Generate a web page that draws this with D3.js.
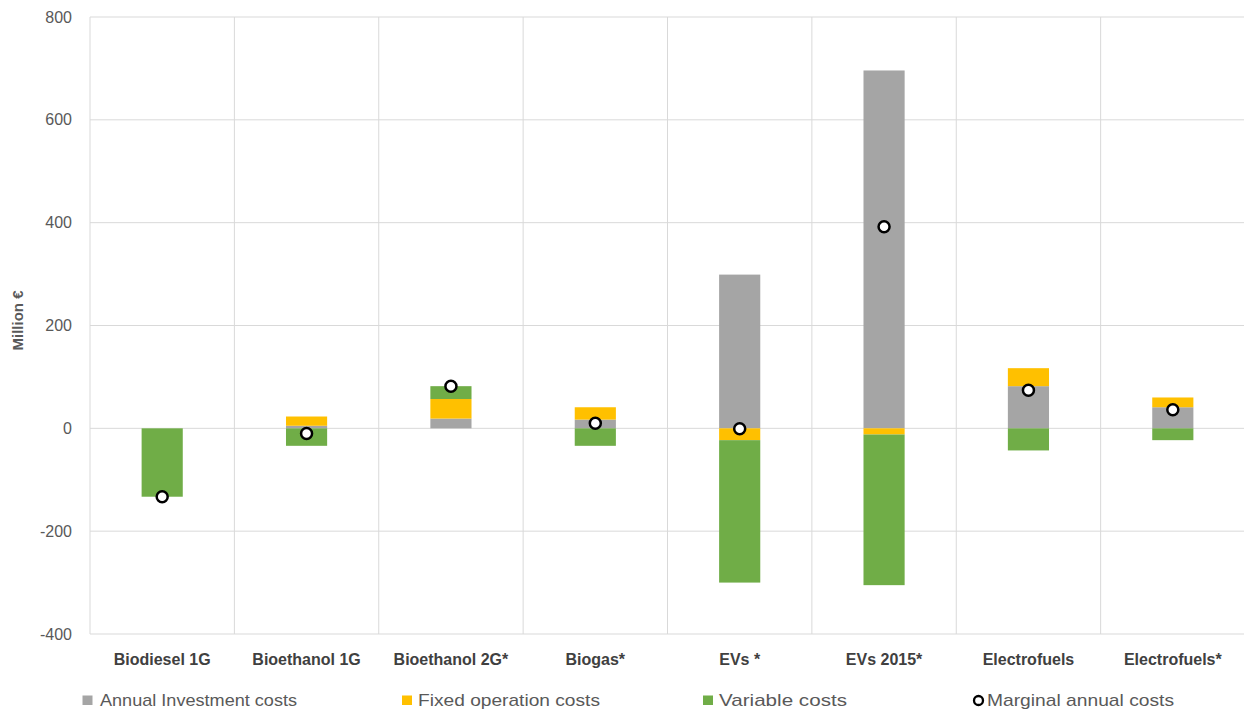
<!DOCTYPE html>
<html><head><meta charset="utf-8">
<script src="https://cdn.jsdelivr.net/npm/d3@7/dist/d3.min.js"></script>
<style>body{margin:0;background:#fff}svg{display:block}</style>
</head><body><svg id="c" width="1244" height="711"></svg>
<script>
const categories = ["Biodiesel 1G","Bioethanol 1G","Bioethanol 2G*","Biogas*","EVs *","EVs 2015*","Electrofuels","Electrofuels*"];
const investment = [0, 5, 19, 17, 299, 696, 82, 41];
const fixedOp    = [0, 18, 38, 24, -23, -12, 35, 19];
const variable   = [-133, -34, 25, -34, -277, -293, -43, -23];
const marginal   = [-133, -10, 82, 10, -1, 392, 74, 36];
const yTicks = [-400,-200,0,200,400,600,800];
const seriesNames = ["Annual Investment costs","Fixed operation costs","Variable costs","Marginal annual costs"];
const colors = ["#a5a5a5","#ffc000","#70ad47"];

const svg = d3.select("#c");
const font = "'Liberation Sans',Arial,sans-serif";
const x0 = 90, x1 = 1245, yTop = 17, yBot = 634;
const x = d3.scaleBand().domain(categories).range([x0, x1]).paddingInner(0).paddingOuter(0);
const y = d3.scaleLinear().domain([-400, 800]).range([yBot, yTop]);

// gridlines
svg.append("g").selectAll("line").data(yTicks).join("line")
  .attr("x1", x0).attr("x2", x1).attr("y1", d=>y(d)).attr("y2", d=>y(d))
  .attr("stroke", "#d9d9d9").attr("stroke-width", 1);
const bounds = categories.map(c=>x(c)).concat([x1]);
svg.append("g").selectAll("line").data(bounds).join("line")
  .attr("x1", d=>d).attr("x2", d=>d).attr("y1", yTop).attr("y2", yBot)
  .attr("stroke", "#d9d9d9").attr("stroke-width", 1);

// tick labels
svg.append("g").selectAll("text").data(yTicks).join("text")
  .attr("x", 72).attr("y", d=>y(d)).attr("dy", "0.35em").attr("text-anchor","end")
  .attr("font-family", font).attr("font-size", 16).attr("fill", "#595959").text(d=>d);

// axis title
svg.append("text").attr("transform", `translate(23,${(yTop+yBot)/2 - 5}) rotate(-90)`)
  .attr("text-anchor","middle").attr("font-family", font).attr("font-size", 15)
  .attr("font-weight","bold").attr("fill","#595959").text("Million €");

// stacked bars
const bw = x.bandwidth() * 0.285;
const series = [investment, fixedOp, variable];
categories.forEach((c, i) => {
  let pos = 0, neg = 0;
  series.forEach((s, k) => {
    const v = s[i];
    if (v === 0) return;
    let a, b;
    if (v > 0) { a = pos; b = pos + v; pos = b; } else { a = neg; b = neg + v; neg = b; }
    svg.append("rect")
      .attr("x", x(c) + x.bandwidth()/2 - bw/2).attr("width", bw)
      .attr("y", y(Math.max(a,b))).attr("height", Math.abs(y(a) - y(b)))
      .attr("fill", colors[k]);
  });
});

// markers
svg.append("g").selectAll("circle").data(categories).join("circle")
  .attr("cx", c => x(c) + x.bandwidth()/2).attr("cy", (c,i)=>y(marginal[i]))
  .attr("r", 5.5).attr("fill","#fff").attr("stroke","#000").attr("stroke-width",2.5);

// category labels
svg.append("g").selectAll("text").data(categories).join("text")
  .attr("x", c => x(c) + x.bandwidth()/2).attr("y", 659).attr("dy","0.35em")
  .attr("text-anchor","middle").attr("font-family", font).attr("font-size", 16)
  .attr("font-weight","bold").attr("fill","#404040").text(d=>d);

// legend
const legMark = [82.5, 402, 703, 978.5];
const legText = [100, 418, 719, 987];
const legLen = [197, 182, 128, 187];
const lg = svg.append("g");
seriesNames.forEach((n, k) => {
  if (k < 3) {
    lg.append("rect").attr("x", legMark[k]).attr("y", 695.5).attr("width", 10).attr("height", 9.5).attr("fill", colors[k]);
  } else {
    lg.append("circle").attr("cx", legMark[k]).attr("cy", 700.5).attr("r", 4.5).attr("fill","#fff").attr("stroke","#000").attr("stroke-width",2.3);
  }
  lg.append("text").attr("x", legText[k]).attr("y", 700.5).attr("dy","0.35em")
    .attr("font-family", font).attr("font-size", 17).attr("fill","#595959")
    .attr("textLength", legLen[k]).attr("lengthAdjust","spacingAndGlyphs").text(n);
});
</script></body></html>
